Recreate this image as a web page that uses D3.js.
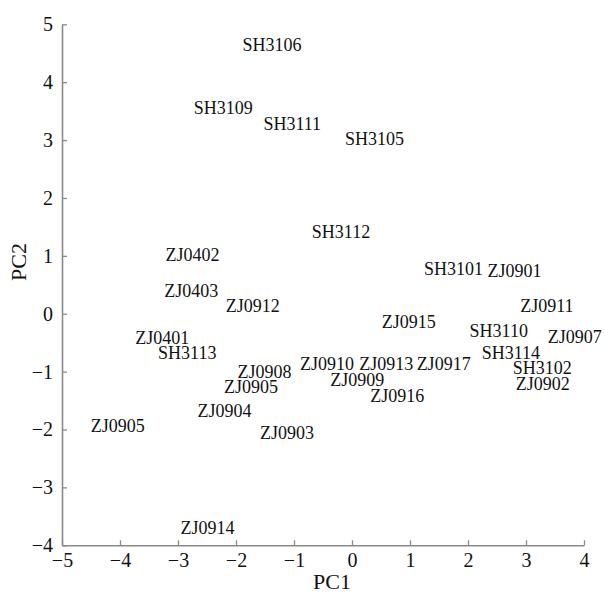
<!DOCTYPE html>
<html>
<head>
<meta charset="utf-8">
<script src="https://cdn.jsdelivr.net/npm/d3@7/dist/d3.min.js"></script>
<style>
  html, body { margin: 0; padding: 0; background: #fff; }
  svg { display: block; }
</style>
</head>
<body>
<script>
// Sample names and PCA scores
const names = ["SH3106","SH3109","SH3111","SH3105","SH3112","ZJ0402","SH3101","ZJ0901",
  "ZJ0403","ZJ0912","ZJ0911","ZJ0915","SH3110","ZJ0907","ZJ0401","SH3113","SH3114",
  "ZJ0910","ZJ0913","ZJ0917","ZJ0908","SH3102","ZJ0909","ZJ0905","ZJ0902","ZJ0916",
  "ZJ0904","ZJ0905","ZJ0903","ZJ0914"];
const pc1 = [-1.38,-2.22,-1.03,0.39,-0.19,-2.75,1.75,2.80,
  -2.77,-1.71,3.36,0.98,2.53,3.84,-3.27,-2.84,2.74,
  -0.43,0.59,1.58,-1.51,3.28,0.09,-1.74,3.29,0.78,
  -2.20,-4.04,-1.12,-2.49];
const pc2 = [4.64,3.56,3.28,3.01,1.41,1.02,0.77,0.73,
  0.39,0.13,0.13,-0.14,-0.30,-0.40,-0.42,-0.68,-0.68,
  -0.87,-0.87,-0.87,-1.00,-0.94,-1.14,-1.27,-1.22,-1.42,
  -1.68,-1.94,-2.06,-3.70];
const xTicks = [-5,-4,-3,-2,-1,0,1,2,3,4];
const yTicks = [-4,-3,-2,-1,0,1,2,3,4,5];
const xTitle = "PC1";
const yTitle = "PC2";

const W = 605, H = 595;
const mLeft = 62, mRight = 584, mTop = 24.3, mBottom = 545.3;
const font = "'Liberation Serif', 'Times New Roman', serif";
const axisColor = "#8a8a8a";

const svg = d3.select("body").append("svg").attr("width", W).attr("height", H);

const x = d3.scaleLinear().domain([-5, 4]).range([mLeft, mRight]);
const y = d3.scaleLinear().domain([-4, 5]).range([mBottom, mTop]);

const gx = svg.append("g").attr("transform", `translate(0,${mBottom})`)
  .call(d3.axisBottom(x).tickValues(xTicks).tickSizeInner(-5).tickSizeOuter(0).tickPadding(8));
const gy = svg.append("g").attr("transform", `translate(${mLeft},0)`)
  .call(d3.axisLeft(y).tickValues(yTicks).tickSizeInner(-5).tickSizeOuter(0).tickPadding(9));

[gx, gy].forEach(g => {
  g.select(".domain").attr("stroke", axisColor).attr("stroke-width", 1.6);
  g.selectAll(".tick line").attr("stroke", axisColor).attr("stroke-width", 1.3);
  g.selectAll(".tick text").attr("fill", "#111").style("font-family", font).style("font-size", "20px");
});

svg.append("text").attr("x", 332).attr("y", 589).attr("text-anchor", "middle")
  .style("font-family", font).style("font-size", "22px").attr("fill", "#111").text(xTitle);
svg.append("text").attr("transform", "translate(26,262) rotate(-90)").attr("text-anchor", "middle")
  .style("font-family", font).style("font-size", "22px").attr("fill", "#111").text(yTitle);

const data = names.map((n, i) => ({ n, a: pc1[i], b: pc2[i] }));
svg.append("g").selectAll("text").data(data).join("text")
  .attr("x", d => x(d.a)).attr("y", d => y(d.b)).attr("dy", "0.33em")
  .attr("text-anchor", "middle")
  .style("font-family", font).style("font-size", "18px").attr("fill", "#111")
  .text(d => d.n);
</script>
</body>
</html>
